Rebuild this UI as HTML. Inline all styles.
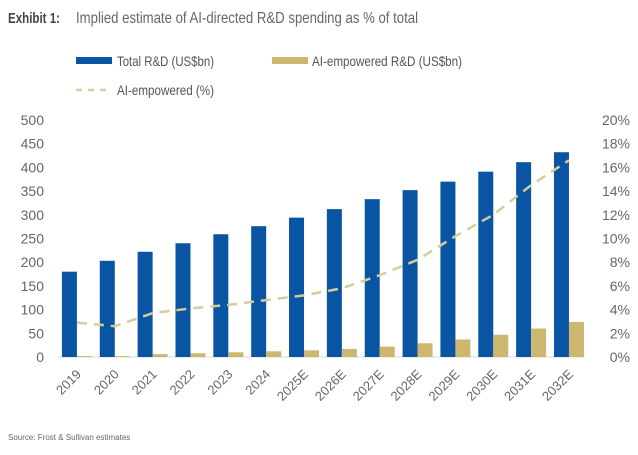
<!DOCTYPE html>
<html><head><meta charset="utf-8"><style>
body{margin:0;background:#fff;font-family:"Liberation Sans",sans-serif;}
svg text{font-family:"Liberation Sans",sans-serif;}
</style></head><body>
<svg width="638" height="450" viewBox="0 0 638 450">
<text x="8" y="23" font-size="15" font-weight="bold" fill="#444" textLength="52" lengthAdjust="spacingAndGlyphs">Exhibit 1:</text>
<text x="76" y="23" font-size="16" fill="#666" textLength="342" lengthAdjust="spacingAndGlyphs">Implied estimate of AI-directed R&amp;D spending as % of total</text>
<rect x="76" y="57" width="36" height="7" fill="#0a55a3"/>
<text x="117" y="66" font-size="14" fill="#555" textLength="97" lengthAdjust="spacingAndGlyphs">Total R&amp;D (US$bn)</text>
<rect x="272" y="57" width="36" height="7" fill="#cdb76f"/>
<text x="312" y="66" font-size="14" fill="#555" textLength="150" lengthAdjust="spacingAndGlyphs">AI-empowered R&amp;D (US$bn)</text>
<line x1="76" y1="90" x2="112" y2="90" stroke="#d6cf9e" stroke-width="2.5" stroke-dasharray="6,6"/>
<text x="117" y="95" font-size="14" fill="#555" textLength="97" lengthAdjust="spacingAndGlyphs">AI-empowered (%)</text>
<g id="plot"></g>
<text x="8" y="440" font-size="8" fill="#666">Source: Frost &amp; Sullivan estimates</text>
</svg>
<script>
const categories=["2019","2020","2021","2022","2023","2024","2025E","2026E","2027E","2028E","2029E","2030E","2031E","2032E"];
const totalRD=[180,203,222,240,259,276,294,312,333,352,370,391,411,432];
const aiRD=[2,2,6,8,10,12,14,17,22,29,37,47,60,74];
const aiPct=[2.9,2.6,3.7,4.1,4.4,4.8,5.2,5.8,6.9,8.2,10.2,12.0,14.5,16.6];
const leftTicks=[0,50,100,150,200,250,300,350,400,450,500];
const rightTicks=[0,2,4,6,8,10,12,14,16,18,20];
const NS="http://www.w3.org/2000/svg";
const g=document.getElementById('plot');
const x0=58,step=37.85,y0=357,yTop=120;
const yL=v=>y0-(v/500)*(y0-yTop);
const yR=v=>y0-(v/20)*(y0-yTop);
const xc=i=>x0+step*(i+0.5);
function mk(t,a){const e=document.createElementNS(NS,t);for(const k in a)e.setAttribute(k,a[k]);g.appendChild(e);return e;}
leftTicks.forEach(v=>{const t=mk('text',{x:44,y:yL(v)+5,'font-size':14,fill:'#666','text-anchor':'end'});t.textContent=v;

});
rightTicks.forEach(v=>{const t=mk('text',{x:630,y:yR(v)+5,'font-size':14,fill:'#666','text-anchor':'end'});t.textContent=v+'%';

});
const ax=mk('line',{x1:x0,y1:y0,x2:x0+step*14-3,y2:y0,stroke:'#d9d9d9','stroke-width':1});


categories.forEach((c,i)=>{
 const b=mk('rect',{x:xc(i)-15,y:yL(totalRD[i]),width:15,height:y0-yL(totalRD[i]),fill:'#0a55a3'});
 
 
 const a=mk('rect',{x:xc(i),y:yL(aiRD[i]),width:15,height:y0-yL(aiRD[i]),fill:'#cdb76f'});
 
 
 const lx=xc(i)+5,ly=375;
 const t=mk('text',{x:lx,y:ly,'font-size':13,fill:'#666','text-anchor':'end',transform:`rotate(-45 ${lx} ${ly})`});
 t.textContent=c;
 
 
});
const pts=aiPct.map((v,i)=>xc(i)+','+yR(v)).join(' ');
const pl=mk('polyline',{points:pts,fill:'none',stroke:'#d6cc9a','stroke-width':2.5,'stroke-dasharray':'10,7'});


</script>
</body></html>
